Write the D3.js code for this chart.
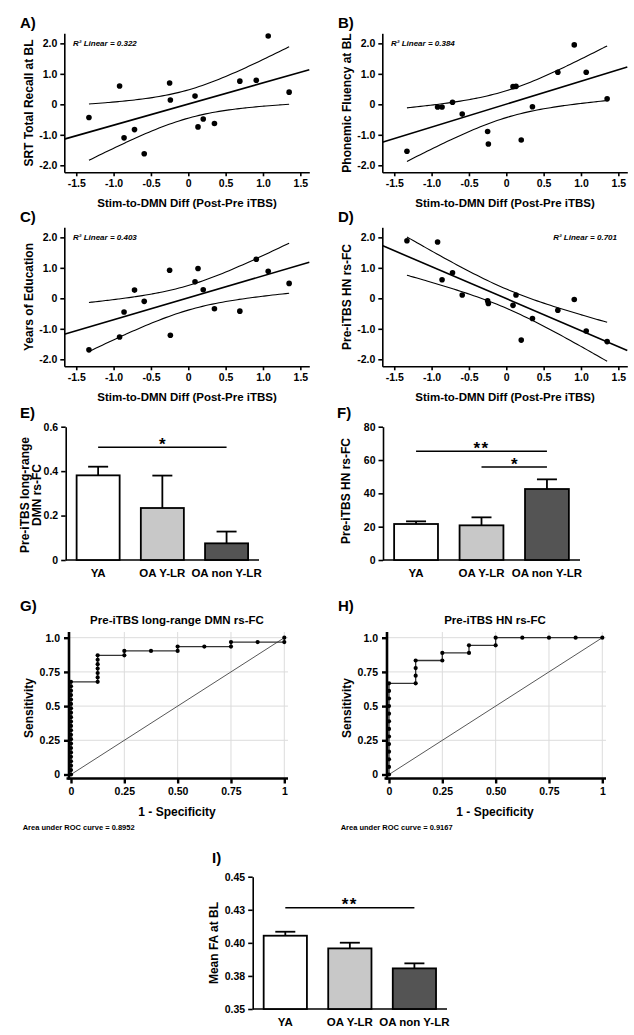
<!DOCTYPE html>
<html><head><meta charset="utf-8">
<script src="https://cdn.jsdelivr.net/npm/d3@7"></script>
<style>
body{margin:0;background:#fff}
svg{display:block}
text{font-family:"Liberation Sans",Arial,sans-serif;font-weight:bold;fill:#000}
</style>
</head><body><svg id="c" width="634" height="1035"></svg>
<script>
// ---------- DATA ----------
// Scatter panels A-D: shared x (Stim-to-DMN Diff, Post-Pre iTBS)
const stimDiff = [-1.33,-0.92,-0.86,-0.72,-0.59,-0.25,-0.24,0.09,0.13,0.20,0.35,0.69,0.91,1.07,1.35];
const srtRecall = [-0.43,0.60,-1.10,-0.83,-1.62,0.70,0.14,0.27,-0.74,-0.48,-0.63,0.76,0.79,2.24,0.40];
const phonFluency = [-1.54,-0.09,-0.09,0.07,-0.32,-0.89,-1.30,0.58,0.59,-1.17,-0.08,1.05,1.95,1.05,0.18];
const yearsEdu = [-1.69,-1.27,-0.45,0.27,-0.10,0.92,-1.21,0.54,0.98,0.28,-0.34,-0.42,1.28,0.89,0.49];
const hnFC = [1.89,1.85,0.61,0.84,0.11,-0.08,-0.17,-0.23,0.11,-1.37,-0.66,-0.39,-0.04,-1.07,-1.42];
const r2Labels = ["R² Linear = 0.322","R² Linear = 0.384","R² Linear = 0.403","R² Linear = 0.701"];
const scatterXTicks = [-1.5,-1.0,-0.5,0,0.5,1.0,1.5];
const scatterXTickLabels = ["-1.5","-1.0","-0.5","0","0.5","1.0","1.5"];
const scatterYTicks = [2,1,0,-1,-2];
const scatterYTickLabels = ["2.0","1.0","0","-1.0","-2.0"];

// Bar panels
const groups = ["YA","OA Y-LR","OA non Y-LR"];
const dmnMean = [0.381,0.234,0.075];
const dmnSem = [0.039,0.146,0.053];
const dmnTicks = [0,0.2,0.4,0.6];
const dmnTickLabels = ["0","0.2","0.4","0.6"];
const hnMean = [21.6,20.8,42.6];
const hnSem = [1.6,4.8,5.8];
const hnTicks = [0,20,40,60,80];
const hnTickLabels = ["0","20","40","60","80"];
const faMean = [0.4054,0.3958,0.3807];
const faSem = [0.0030,0.0043,0.0038];
const faTicks = [0.35,0.375,0.40,0.425,0.45];
const faTickLabels = ["0.35","0.38","0.40","0.43","0.45"];
// significance bars: [fromGroup, toGroup, yValue, label]
const dmnSig = [["YA","OA non Y-LR",0.507,"*"]];
const hnSig = [["YA","OA non Y-LR",65.2,"**"],["OA Y-LR","OA non Y-LR",55.8,"*"]];
const faSig = [["YA","OA non Y-LR",0.4266,"**"]];

// ROC panels (fpr in eighths, tpr as counts of positives)
const rocG_fpr8 = [0,0,0,0,0,0,0,0,0,0,0,0,0,0,0,0,0,0,0,0,0,0, 1,1,1,1,1,1,1, 2,2, 3, 4,4, 5, 6,6, 7, 8,8];
const rocG_tp   = [0,1,2,3,4,5,6,7,8,9,10,11,12,13,14,15,16,17,18,19,20,21, 21,22,23,24,25,26,27, 27,28, 28, 28,29, 29, 29,30, 30, 30,31];
const rocG_nPos = 31;
const rocH_fpr8 = [0,0,0,0,0,0,0,0,0,0,0,0,0, 1,1,1,1, 2,2, 3,3, 4,4, 5, 6, 7, 8];
const rocH_tp   = [0,1,2,3,4,5,6,7,8,9,10,11,12, 12,13,14,15, 15,16, 16,17, 17,18, 18, 18, 18, 18];
const rocH_nPos = 18;
const rocTicks = [0,0.25,0.5,0.75,1];
const rocXTickLabels = ["0","0.25","0.50","0.75","1"];
const rocYTickLabels = ["0","0.25","0.5","0.75","1.0"];
const aucLabels = ["Area under ROC curve = 0.8952","Area under ROC curve = 0.9167"];

// ---------- DRAW ----------
const svg = d3.select("#c");
const FONT_TICK = 10.5;

function panelLabel(x, y, t){
  svg.append("text").attr("x",x).attr("y",y).attr("font-size",15).text(t);
}

function scatter(ox, oy, ys, label, ytitle, r2, r2right){
  const x = d3.scaleLinear().domain([-1.66,1.62]).range([64.3+ox, 309.3+ox]);
  const y = d3.scaleLinear().domain([-2.23,2.33]).range([172.3+oy, 33.3+oy]);
  const g = svg.append("g");
  const xa = g.append("g").attr("transform",`translate(0,${y.range()[0]})`)
    .call(d3.axisBottom(x).tickValues(scatterXTicks).tickFormat((d,i)=>scatterXTickLabels[i]).tickSize(4).tickSizeOuter(0).tickPadding(3));
  const ya = g.append("g").attr("transform",`translate(${x.range()[0]},0)`)
    .call(d3.axisLeft(y).tickValues(scatterYTicks).tickFormat((d,i)=>scatterYTickLabels[i]).tickSize(4).tickSizeOuter(0).tickPadding(3));
  [xa,ya].forEach(a=>{
    a.selectAll("path,line").attr("stroke","#000").attr("stroke-width",1.6);
    a.selectAll("text").attr("font-size",FONT_TICK).attr("font-family",null);
  });
  // regression
  const n = stimDiff.length;
  const mx = d3.mean(stimDiff), my = d3.mean(ys);
  const sxx = d3.sum(stimDiff, v=>(v-mx)*(v-mx));
  const sxy = d3.sum(stimDiff, (v,i)=>(v-mx)*(ys[i]-my));
  const b = sxy/sxx, a0 = my - b*mx;
  const sse = d3.sum(stimDiff,(v,i)=>Math.pow(ys[i]-(a0+b*v),2));
  const s = Math.sqrt(sse/(n-2));
  const tcrit = 2.160;
  const [xd0,xd1] = x.domain();
  g.append("line").attr("x1",x(xd0)).attr("y1",y(a0+b*xd0)).attr("x2",x(xd1)).attr("y2",y(a0+b*xd1))
    .attr("stroke","#000").attr("stroke-width",1.6);
  const xmin = d3.min(stimDiff), xmax = d3.max(stimDiff);
  const xs = d3.range(0,61).map(k=>xmin+(xmax-xmin)*k/60);
  [1,-1].forEach(sg=>{
    g.append("path").attr("fill","none").attr("stroke","#000").attr("stroke-width",1.1)
      .attr("d", d3.line().x(v=>x(v)).y(v=>y(a0+b*v + sg*tcrit*s*Math.sqrt(1/n+(v-mx)*(v-mx)/sxx))).curve(d3.curveMonotoneX)(xs));
  });
  g.selectAll("circle.p").data(stimDiff).join("circle").attr("cx",d=>x(d)).attr("cy",(d,i)=>y(ys[i])).attr("r",2.8).attr("fill","#000");
  // texts
  if(r2right){
    g.append("text").attr("x",617+ (ox-318)).attr("y",45.5+oy).attr("text-anchor","end").attr("font-size",8).attr("font-style","italic").text(r2);
  } else {
    g.append("text").attr("x",73+ox).attr("y",45.5+oy).attr("font-size",8).attr("font-style","italic").text(r2);
  }
  g.append("text").attr("x",187+ox).attr("y",207+oy).attr("text-anchor","middle").attr("font-size",11.5).text("Stim-to-DMN Diff (Post-Pre iTBS)");
  g.append("text").attr("transform",`translate(${33+ox},${103+oy}) rotate(-90)`).attr("text-anchor","middle").attr("font-size",12).text(ytitle);
  panelLabel(20+ox, 28+oy, label);
}

scatter(0,0,srtRecall,"A)","SRT Total Recall at BL",r2Labels[0],false);
scatter(318,0,phonFluency,"B)","Phonemic Fluency at BL",r2Labels[1],false);
scatter(0,194,yearsEdu,"C)","Years of Education",r2Labels[2],false);
scatter(318,194,hnFC,"D)","Pre-iTBS HN rs-FC",r2Labels[3],true);

const barFill = ["#ffffff","#c8c8c8","#545454"];

function barPanel(o){
  const x = d3.scaleBand().domain(groups).range([o.x0,o.x1]).paddingInner(0.33).paddingOuter(0.17);
  const y = d3.scaleLinear().domain(o.ydom).range([o.yb,o.yt]);
  const g = svg.append("g");
  const ya = g.append("g").attr("transform",`translate(${o.x0},0)`)
    .call(d3.axisLeft(y).tickValues(o.ticks).tickFormat((d,i)=>o.tickLabels[i]).tickSize(4.5).tickSizeOuter(0).tickPadding(3));
  ya.selectAll("path,line").attr("stroke","#000").attr("stroke-width",1.6);
  ya.selectAll("text").attr("font-size",FONT_TICK).attr("font-family",null);
  g.append("line").attr("x1",o.x0).attr("x2",o.x1).attr("y1",o.yb).attr("y2",o.yb).attr("stroke","#000").attr("stroke-width",1.6);
  const bw = x.bandwidth();
  groups.forEach((gr,i)=>{
    const cx = x(gr)+bw/2;
    const top = y(o.mean[i]), etop = y(o.mean[i]+o.sem[i]);
    g.append("line").attr("x1",cx).attr("x2",cx).attr("y1",top).attr("y2",etop).attr("stroke","#000").attr("stroke-width",1.8);
    g.append("line").attr("x1",cx-10).attr("x2",cx+10).attr("y1",etop).attr("y2",etop).attr("stroke","#000").attr("stroke-width",1.8);
    g.append("rect").attr("x",x(gr)).attr("y",top).attr("width",bw).attr("height",o.yb-top)
      .attr("fill",barFill[i]).attr("stroke","#000").attr("stroke-width",1.8);
    g.append("text").attr("x",cx).attr("y",o.yb+17).attr("text-anchor","middle").attr("font-size",11.5).text(gr);
  });
  o.sig.forEach(sg=>{
    const xa = x(sg[0])+bw/2, xb = x(sg[1])+bw/2, yy = y(sg[2]);
    g.append("line").attr("x1",xa).attr("x2",xb).attr("y1",yy).attr("y2",yy).attr("stroke","#000").attr("stroke-width",1.5);
    g.append("text").attr("x",(xa+xb)/2).attr("y",yy+2.5).attr("text-anchor","middle").attr("font-size",17).attr("font-weight","normal").attr("letter-spacing",sg[3].length>1?"1.5px":"0").text(sg[3]);
  });
  const t = g.append("text").attr("transform",`translate(${o.ytx},${o.yty}) rotate(-90)`).attr("text-anchor","middle").attr("font-size",12);
  o.ytitle.forEach((ln,k)=>t.append("tspan").attr("x",0).attr("dy",k===0?0:12).text(ln));
  panelLabel(o.lx,o.ly,o.label);
}

barPanel({x0:65.7,x1:259,yb:560,yt:426.7,ydom:[0,0.6],ticks:dmnTicks,tickLabels:dmnTickLabels,mean:dmnMean,sem:dmnSem,sig:dmnSig,
  ytitle:["Pre-iTBS long-range","DMN rs-FC"],ytx:29,yty:495,label:"E)",lx:20,ly:418});
barPanel({x0:383,x1:580,yb:560,yt:426.7,ydom:[0,80],ticks:hnTicks,tickLabels:hnTickLabels,mean:hnMean,sem:hnSem,sig:hnSig,
  ytitle:["Pre-iTBS HN rs-FC"],ytx:350,yty:491,label:"F)",lx:337,ly:418});
barPanel({x0:252.7,x1:447,yb:1009,yt:876.7,ydom:[0.35,0.45],ticks:faTicks,tickLabels:faTickLabels,mean:faMean,sem:faSem,sig:faSig,
  ytitle:["Mean FA at BL"],ytx:218,yty:943,label:"I)",lx:212,ly:863});

function roc(ox, fpr8, tp, nPos, title, auc, label){
  const x = d3.scaleLinear().domain([0,1]).range([71+ox,284.3+ox]);
  const y = d3.scaleLinear().domain([0,1]).range([774.5,637.7]);
  const g = svg.append("g");
  const axX = 69+ox, axY = 778.5;
  // grid
  rocTicks.filter(v=>v>0).forEach(v=>{
    g.append("line").attr("x1",x(v)).attr("x2",x(v)).attr("y1",axY).attr("y2",632).attr("stroke","#dcdcdc").attr("stroke-width",1);
    g.append("line").attr("x1",axX).attr("x2",288+ox).attr("y1",y(v)).attr("y2",y(v)).attr("stroke","#dcdcdc").attr("stroke-width",1);
  });
  // diagonal
  g.append("line").attr("x1",x(0)).attr("y1",y(0)).attr("x2",x(1)).attr("y2",y(1)).attr("stroke","#444").attr("stroke-width",0.9);
  // curve
  const pts = fpr8.map((f,i)=>[f/8, tp[i]/nPos]);
  g.append("path").attr("fill","none").attr("stroke","#333").attr("stroke-width",1.3)
    .attr("d",d3.line().x(d=>x(d[0])).y(d=>y(d[1]))(pts));
  g.selectAll("circle").data(pts).join("circle").attr("cx",d=>x(d[0])).attr("cy",d=>y(d[1])).attr("r",2.1).attr("fill","#000");
  // axes
  const xa = g.append("g").attr("transform",`translate(0,${axY})`)
    .call(d3.axisBottom(x).tickValues(rocTicks).tickFormat((d,i)=>rocXTickLabels[i]).tickSize(5).tickSizeOuter(0).tickPadding(4));
  xa.select(".domain").remove();
  const ya = g.append("g").attr("transform",`translate(${axX},0)`)
    .call(d3.axisLeft(y).tickValues(rocTicks).tickFormat((d,i)=>rocYTickLabels[i]).tickSize(5).tickSizeOuter(0).tickPadding(4));
  ya.select(".domain").remove();
  [xa,ya].forEach(a=>{
    a.selectAll("line").attr("stroke","#000").attr("stroke-width",2.4);
    a.selectAll("text").attr("font-size",FONT_TICK).attr("font-family",null);
  });
  g.append("line").attr("x1",axX).attr("x2",axX).attr("y1",632).attr("y2",axY+1.2).attr("stroke","#000").attr("stroke-width",2.6);
  g.append("line").attr("x1",axX-2.5).attr("x2",288+ox).attr("y1",axY).attr("y2",axY).attr("stroke","#000").attr("stroke-width",2.6);
  g.append("text").attr("x",177+ox).attr("y",624).attr("text-anchor","middle").attr("font-size",11.5).text(title);
  g.append("text").attr("x",177+ox).attr("y",816).attr("text-anchor","middle").attr("font-size",12).text("1 - Specificity");
  g.append("text").attr("transform",`translate(${33+ox},708) rotate(-90)`).attr("text-anchor","middle").attr("font-size",12).text("Sensitivity");
  g.append("text").attr("x",22.7+ox).attr("y",830).attr("font-size",7.5).text(auc);
  panelLabel(20+ox,611,label);
}

roc(0,rocG_fpr8,rocG_tp,rocG_nPos,"Pre-iTBS long-range DMN rs-FC",aucLabels[0],"G)");
roc(318,rocH_fpr8,rocH_tp,rocH_nPos,"Pre-iTBS HN rs-FC",aucLabels[1],"H)");
</script>
</body></html>
